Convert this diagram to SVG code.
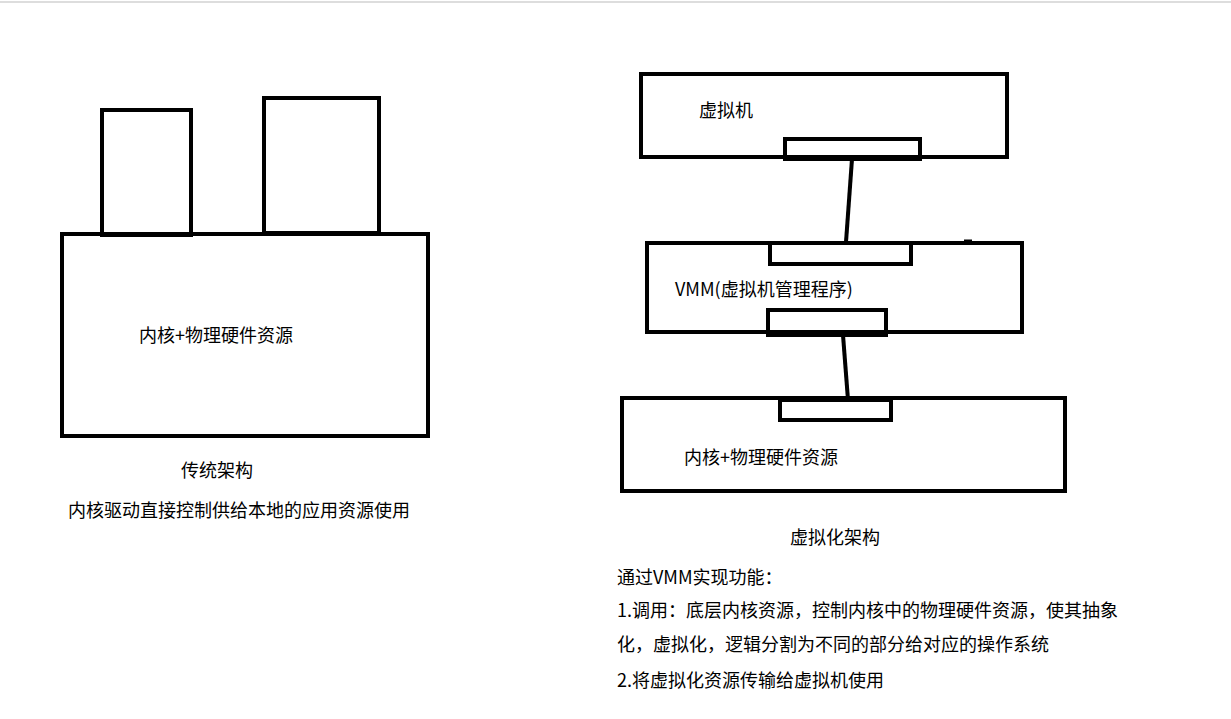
<svg xmlns="http://www.w3.org/2000/svg" width="1231" height="719" viewBox="0 0 1231 719">
<style>
.b{fill:none;stroke:#000;stroke-width:4}
.t{font-family:"Microsoft YaHei","Noto Sans CJK SC",sans-serif;font-size:18px;fill:#000}
</style>
<rect width="1231" height="719" fill="#fff"/>
<line x1="0" y1="2" x2="1231" y2="2" stroke="#ddd" stroke-width="2"/>
<g id="left">
<rect class="b" x="102" y="110" width="89" height="125"/>
<rect class="b" x="264" y="98" width="115" height="135"/>
<rect class="b" x="62" y="234" width="366" height="202"/>
<text class="t" x="139" y="342">内核+物理硬件资源</text>
<text class="t" x="181" y="477">传统架构</text>
<text class="t" x="68" y="517">内核驱动直接控制供给本地的应用资源使用</text>
</g>
<g id="vm"><rect class="b" x="641" y="74" width="366" height="83"/><rect class="b" x="785" y="139" width="135" height="20"/><text class="t" x="699" y="117">虚拟机</text></g>
<g id="vmm"><rect class="b" x="647" y="243" width="375" height="89"/><rect class="b" x="770" y="243" width="141" height="21"/><rect class="b" x="768" y="310" width="118" height="25"/><text class="t" x="675" y="296">VMM(虚拟机管理程序)</text><line x1="964" y1="241" x2="972" y2="241" stroke="#000" stroke-width="3"/></g>
<g id="hw"><rect class="b" x="622" y="398" width="443" height="93"/><rect class="b" x="780" y="400" width="111" height="20"/><text class="t" x="684" y="464">内核+物理硬件资源</text></g>
<g id="connectors"><line class="b" x1="852" y1="159" x2="846" y2="242"/><line class="b" x1="843" y1="335" x2="848" y2="400"/></g>
<g id="notes">
<text class="t" x="790" y="544">虚拟化架构</text>
<text class="t" x="617" y="584">通过VMM实现功能：</text>
<text class="t" x="617" y="617">1.调用：底层内核资源，控制内核中的物理硬件资源，使其抽象</text>
<text class="t" x="617" y="651">化，虚拟化，逻辑分割为不同的部分给对应的操作系统</text>
<text class="t" x="617" y="687">2.将虚拟化资源传输给虚拟机使用</text>
</g>
</svg>
